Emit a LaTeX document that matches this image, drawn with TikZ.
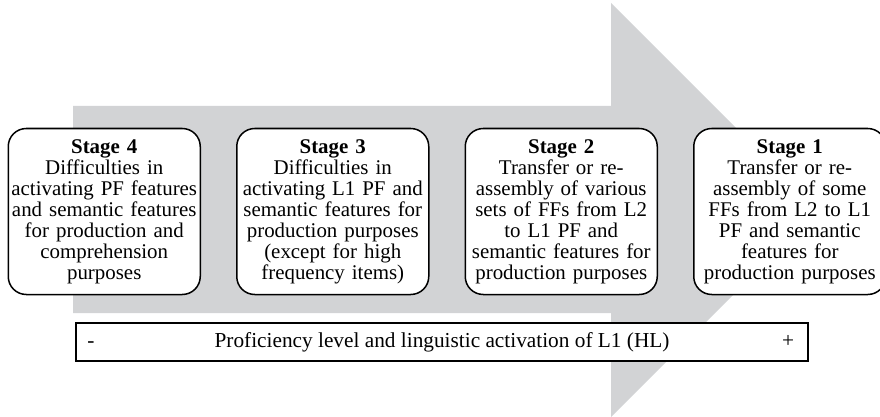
\documentclass[tikz,border=0pt]{standalone}
\usepackage{fontspec}
\setmainfont{Liberation Serif}
\usetikzlibrary{positioning}

\definecolor{arrowgray}{RGB}{210,211,213}

\tikzset{
  stagebox/.style={draw=black,fill=white,line width=1.5pt,rounded corners=18pt,
    minimum width=192pt,minimum height=166pt,text width=190pt,inner sep=0pt,
    align=center,font=\fontsize{20.9}{21}\selectfont},
  scalebox/.style={draw=black,fill=white,line width=1.1pt,minimum width=732pt,
    minimum height=38pt,inner sep=0pt,font=\fontsize{21.3}{21}\selectfont},
  scalemark/.style={anchor=base,inner sep=0pt,font=\fontsize{21.3}{21}\selectfont},
}

\begin{document}
\begin{tikzpicture}[x=1pt,y=-1pt]
\useasboundingbox (0,0) rectangle (880,417);

% big gray arrow behind the stages
\fill[arrowgray] (73,106) -- (611,106) -- (611,3) -- (818,210) -- (611,417)
  -- (611,313) -- (73,313) -- cycle;

% stages
\node[stagebox,anchor=west] (S4) at (7.5,211.5) {\textbf{Stage 4}\\Difficulties in\\activating PF features\\and semantic features\\for production and\\comprehension\\purposes};
\node[stagebox,right=35pt of S4] (S3) {\textbf{Stage 3}\\Difficulties in\\activating L1 PF and\\semantic features for\\production purposes\\(except for high\\frequency items)};
\node[stagebox,right=35pt of S3] (S2) {\textbf{Stage 2}\\Transfer or re-\\assembly of various\\sets of FFs from L2\\to L1 PF and\\semantic features for\\production purposes};
\node[stagebox,right=35pt of S2] (S1) {\textbf{Stage 1}\\Transfer or re-\\assembly of some\\FFs from L2 to L1\\PF and semantic\\features for\\production purposes};

% proficiency scale
\node[scalebox] (scale) at (442,342) {Proficiency level and linguistic activation of L1 (HL)};
\node[scalemark] (minus) at (scale.base -| 91,0) {-};
\node[scalemark] (plus) at (scale.base -| 788,0) {+};

\end{tikzpicture}
\end{document}
